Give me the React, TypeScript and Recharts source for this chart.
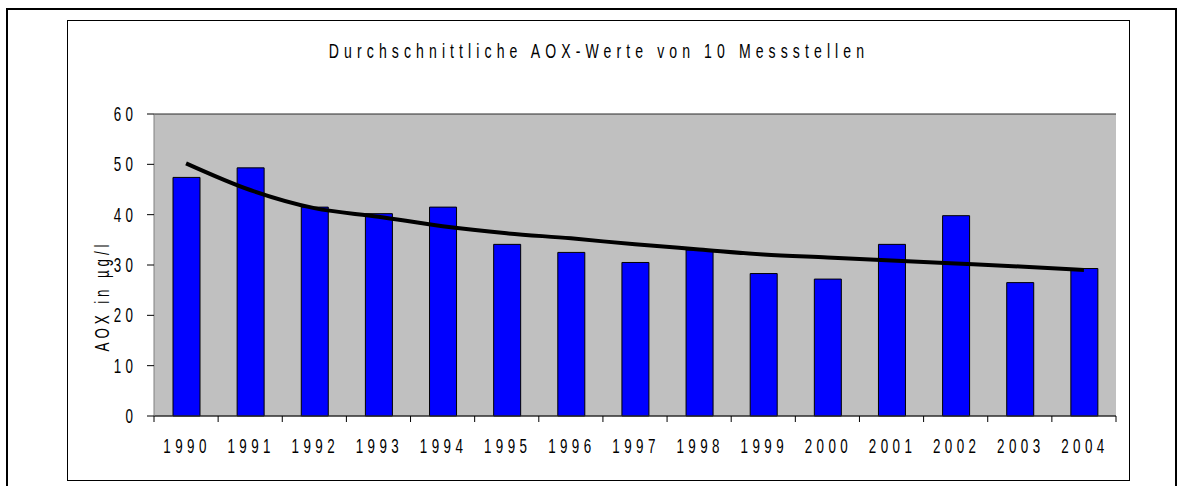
import React from "react";
import {
  ComposedChart,
  Bar,
  Line,
  XAxis,
  YAxis,
  CartesianGrid,
} from "recharts";

const years = [
  "1990", "1991", "1992", "1993", "1994", "1995", "1996", "1997",
  "1998", "1999", "2000", "2001", "2002", "2003", "2004",
];
// mean AOX per year (µg/l)
const aoxValues = [
  47.4, 49.3, 41.5, 40.2, 41.5, 34.1, 32.5, 30.5, 33.0, 28.3, 27.2, 34.1,
  39.8, 26.5, 29.3,
];
// trend line values
const trendValues = [
  50.2, 44.9, 41.3, 39.6, 37.7, 36.3, 35.3, 34.1, 33.1, 32.1, 31.5, 30.9,
  30.3, 29.7, 29.0,
];
const yTicks = [0, 10, 20, 30, 40, 50, 60];

const titleText = "Durchschnittliche AOX-Werte von 10 Messstellen";
const yLabelText = "AOX in µg/l";

const data = years.map((year, i) => ({
  year,
  aox: aoxValues[i],
  trend: trendValues[i],
}));

// the original uses a tall, horizontally squeezed font
const SX = 0.67;
const FONT = "'Liberation Sans', Arial, sans-serif";

interface StretchProps {
  x: number;
  y: number;
  anchor: "start" | "middle" | "end";
  size?: number;
  spacing?: number;
  rotate?: number;
  children: React.ReactNode;
}

const StretchText = ({
  x,
  y,
  anchor,
  size = 20,
  spacing = 6.6,
  rotate = 0,
  children,
}: StretchProps) => (
  <text
    transform={`translate(${x} ${y})${rotate ? ` rotate(${rotate})` : ""} scale(${SX} 1)`}
    textAnchor={anchor}
    fontFamily={FONT}
    fontSize={size}
    fill="#000"
    style={{ letterSpacing: spacing }}
  >
    {children}
  </text>
);

// category ticks sit between the bars, like in Excel
const XTick = (props: any) => {
  const { x, y, payload, index } = props;
  const half = payload?.offset || 32;
  const last = index === years.length - 1;
  return (
    <g>
      <line x1={x - half} y1={y} x2={x - half} y2={y + 6} stroke="#000" />
      {last && (
        <line x1={x + half} y1={y} x2={x + half} y2={y + 6} stroke="#000" />
      )}
      <StretchText x={x + 1} y={y + 37} anchor="middle">
        {payload.value}
      </StretchText>
    </g>
  );
};

const YTick = (props: any) => {
  const { x, y, payload } = props;
  return (
    <StretchText x={x - 9.5} y={y + 7} anchor="end">
      {payload.value}
    </StretchText>
  );
};

export default function App() {
  return (
    <div
      style={{
        position: "fixed",
        left: 0,
        top: 0,
        width: 1182,
        height: 486,
        background: "#fff",
        overflow: "hidden",
      }}
    >
      {/* outer frame */}
      <div
        style={{
          position: "absolute",
          left: 6,
          top: 8,
          width: 1171,
          height: 500,
          border: "2px solid #000",
          boxSizing: "border-box",
        }}
      />
      <div style={{ position: "absolute", left: 67, top: 20 }}>
        <ComposedChart
          width={1063}
          height={461}
          data={data}
          margin={{ top: 94, right: 14, bottom: 0, left: 0 }}
          barCategoryGap={0}
        >
          <CartesianGrid
            vertical={false}
            stroke="#2a2a2a"
            fill="#C0C0C0"
            fillOpacity={1}
          />
          <XAxis
            dataKey="year"
            interval={0}
            height={65}
            tickLine={false}
            tickSize={0}
            tickMargin={0}
            axisLine={{ stroke: "#303030" }}
            tick={<XTick />}
          />
          <YAxis
            yAxisId="left"
            width={87}
            domain={[0, 60]}
            ticks={yTicks}
            interval={0}
            tickSize={7}
            tickMargin={0}
            tickLine={{ stroke: "#000" }}
            axisLine={{ stroke: "#808080" }}
            tick={<YTick />}
          />
          <YAxis
            yAxisId="right"
            orientation="right"
            width={0}
            domain={[0, 60]}
            tick={false}
            tickLine={false}
            axisLine={{ stroke: "#808080" }}
          />
          <Bar
            yAxisId="left"
            dataKey="aox"
            barSize={27}
            fill="#0000FF"
            stroke="#000"
            strokeWidth={1}
            isAnimationActive={false}
          />
          <Line
            yAxisId="left"
            type="monotone"
            dataKey="trend"
            stroke="#000"
            strokeWidth={4}
            dot={false}
            activeDot={false}
            isAnimationActive={false}
          />
          <StretchText x={532} y={38} anchor="middle" size={21} spacing={7.6}>
            {titleText}
          </StretchText>
          <StretchText x={42} y={276} anchor="middle" spacing={5.8} rotate={-90}>
            {yLabelText}
          </StretchText>
        </ComposedChart>
      </div>
      {/* inner chart frame */}
      <div
        style={{
          position: "absolute",
          left: 67,
          top: 20,
          width: 1063,
          height: 461,
          border: "1px solid #000",
          boxSizing: "border-box",
          pointerEvents: "none",
        }}
      />
    </div>
  );
}
